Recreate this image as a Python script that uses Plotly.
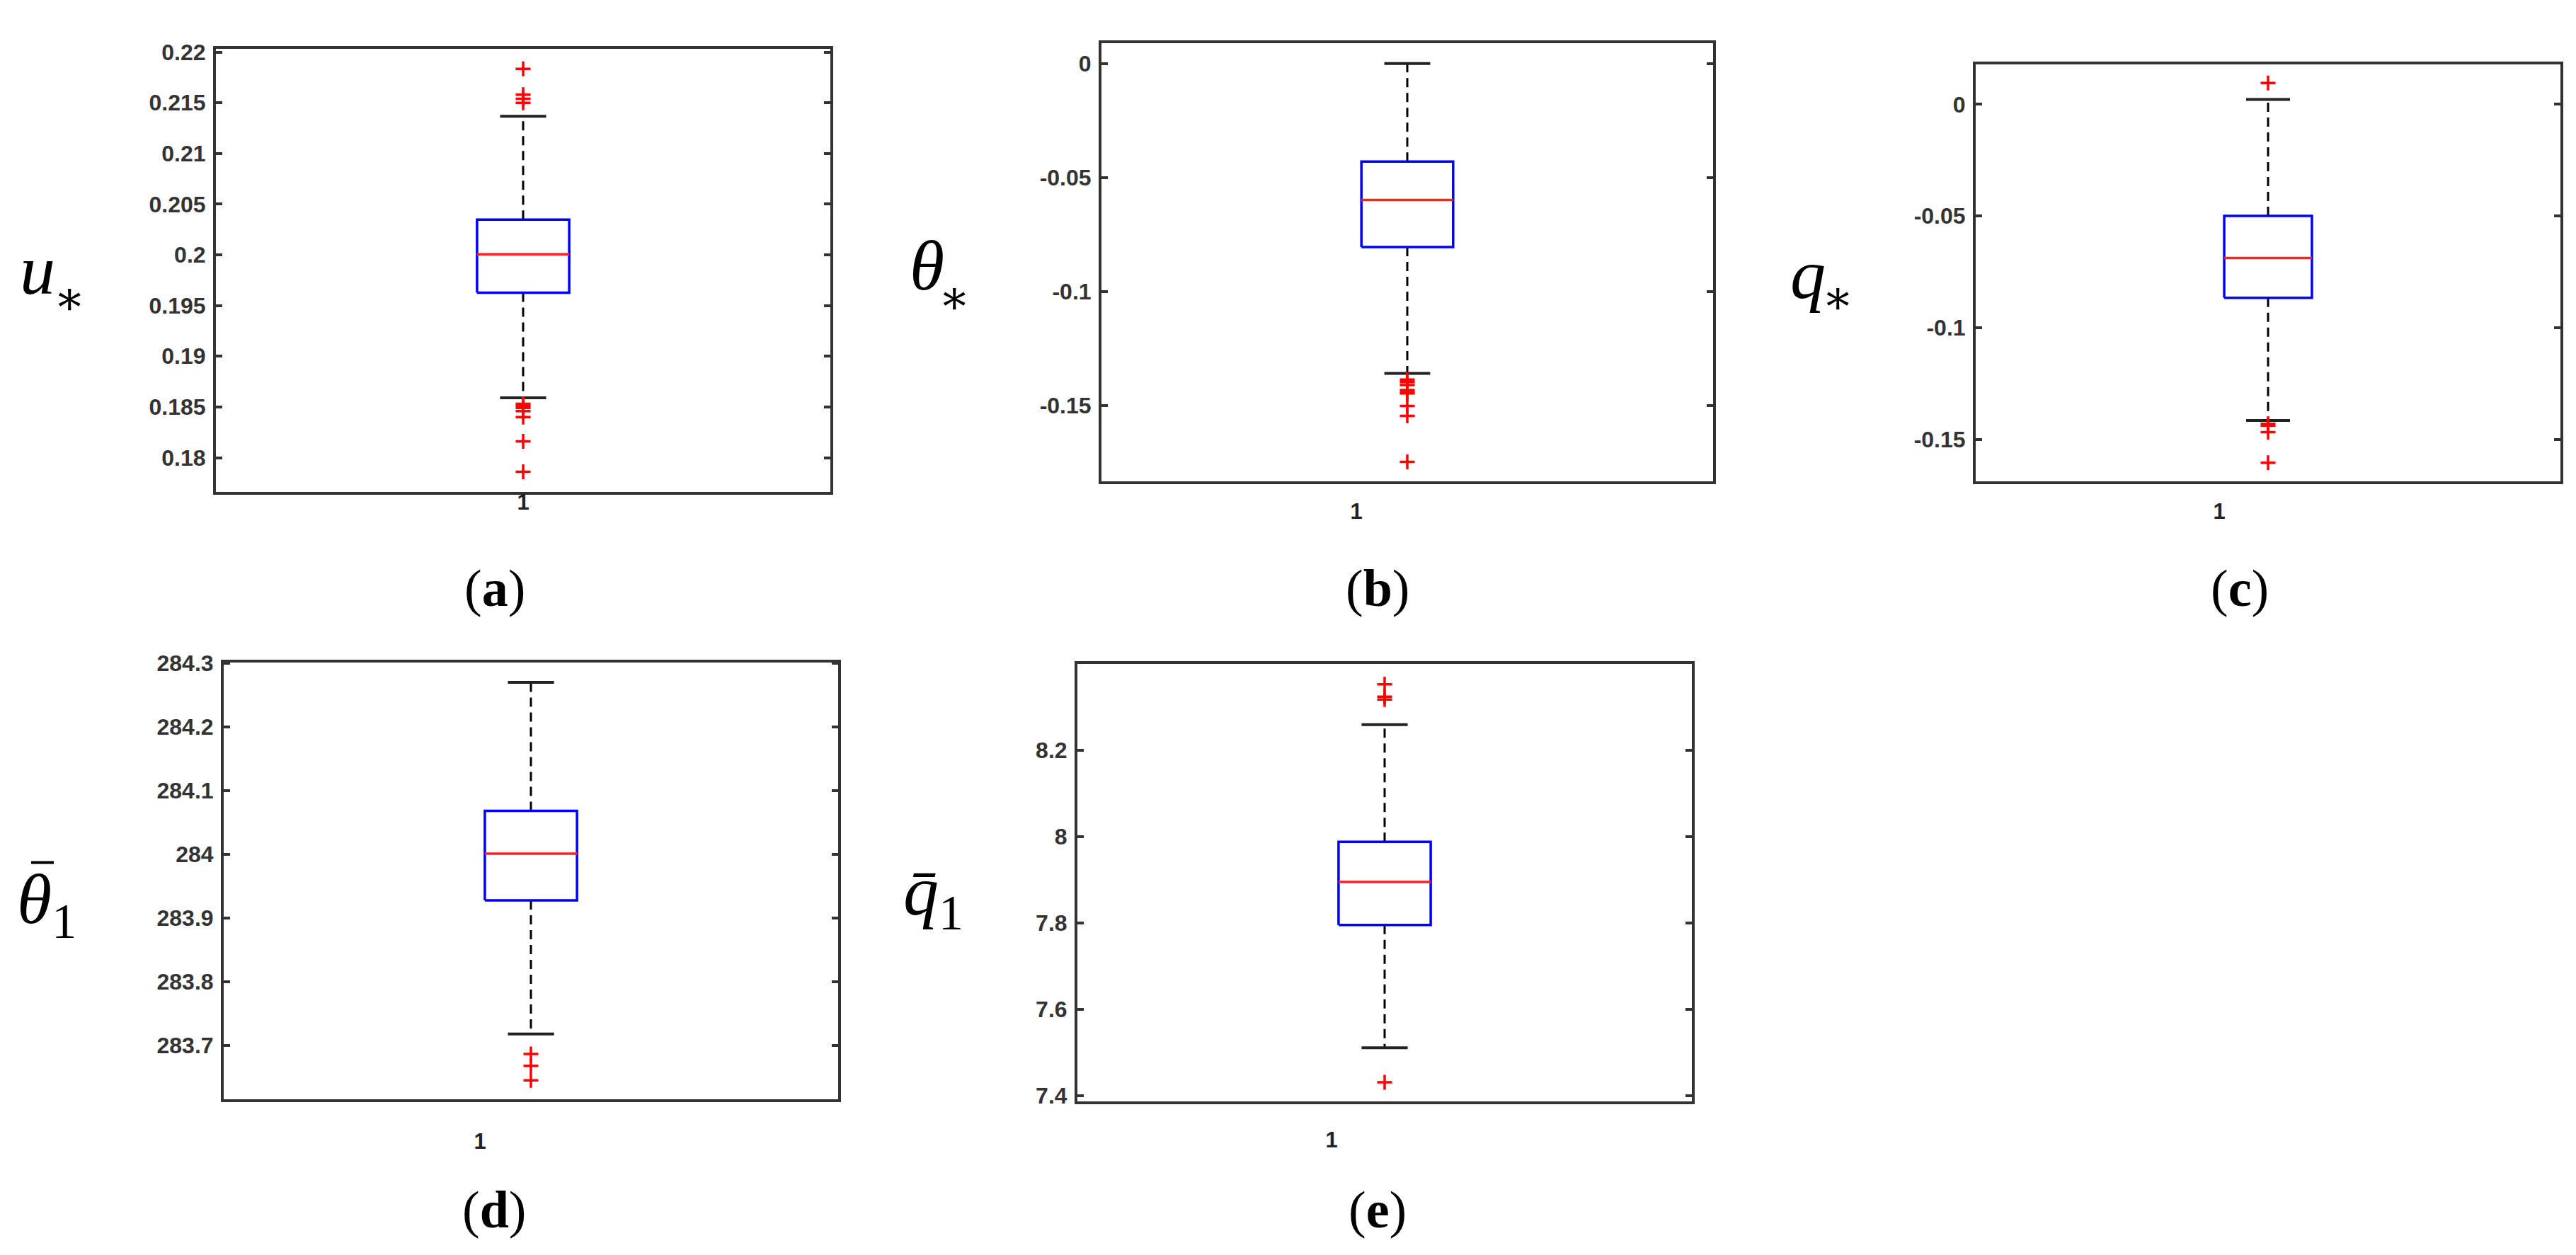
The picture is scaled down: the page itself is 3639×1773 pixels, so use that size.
import plotly.graph_objects as go

W, H = 3639, 1773

# panel captions and y-axis symbols
captions = ["(<b>a</b>)", "(<b>b</b>)", "(<b>c</b>)", "(<b>d</b>)", "(<b>e</b>)"]
symbols = ["<i>u</i>", "<i>θ</i>", "<i>q</i>", "<i>θ</i><sub>1</sub>", "<i>q\u0304</i><sub>1</sub>"]
symbol_star = ["∗", "∗", "∗", "", ""]

# box statistics
q1_vals = [0.19627, -0.0805, -0.0866, 283.9277, 7.796]
median_vals = [0.20005, -0.05985, -0.0688, 284.001, 7.8955]
q3_vals = [0.20348, -0.0430, -0.0499, 284.0684, 7.9886]
lower_whisker = [0.1859, -0.1359, -0.1415, 283.718, 7.5112]
upper_whisker = [0.21368, 0.0, 0.00224, 284.270, 8.2599]

outliers_a = [0.21835, 0.2158, 0.2154, 0.2150, 0.1853, 0.1851, 0.1849, 0.1846, 0.1840, 0.1816, 0.1786]
outliers_b = [-0.1386, -0.1397, -0.1410, -0.1432, -0.1441, -0.1447, -0.1502, -0.1545, -0.1747]
outliers_c = [0.0096, -0.1430, -0.1438, -0.1467, -0.1604]
outliers_d = [283.6865, 283.668, 283.645]
outliers_e = [8.353, 8.3245, 8.318, 7.4314]
outliers = [outliers_a, outliers_b, outliers_c, outliers_d, outliers_e]

# axis ranges and ticks
y_ranges = [[0.17664, 0.2203], [-0.1832, 0.00878], [-0.1687, 0.0179],
            [283.615, 284.3013], [7.3867, 8.4005]]
tick_a = [0.18, 0.185, 0.19, 0.195, 0.2, 0.205, 0.21, 0.215, 0.22]
tick_b = [-0.15, -0.1, -0.05, 0]
tick_c = [-0.15, -0.1, -0.05, 0]
tick_d = [283.7, 283.8, 283.9, 284, 284.1, 284.2, 284.3]
tick_e = [7.4, 7.6, 7.8, 8, 8.2]
tick_vals = [tick_a, tick_b, tick_c, tick_d, tick_e]

# panel boxes in pixels: left, right, top, bottom
boxes_px = [(297, 1165, 45, 680), (1548, 2412, 37, 665), (2783, 3609, 67, 665),
            (308, 1176, 925, 1552), (1514, 2382, 927, 1555)]
label_shift = [0, -72, -69, -72, -75]
label_standoff = [-16, 12, 12, 28, 23]
symbol_pos = [(45, 362), (1301, 356), (2546, 368), (58, 1272), (1310, 1260)]
star_pos = [(90, 403), (1340, 402), (2588, 402), (0, 0), (0, 0)]
caption_pos = [(691, 818), (1938, 818), (3156, 818), (690, 1710), (1938, 1710)]
theta_bar_px = (36, 68, 1212)  # x0, x1, y of the bar over theta in (d)

bw = 0.075   # half box width
cw = 0.0375  # half cap width

fig = go.Figure()
for i in range(5):
    xa = "x" if i == 0 else f"x{i + 1}"
    ya = "y" if i == 0 else f"y{i + 1}"
    q1, med, q3 = q1_vals[i], median_vals[i], q3_vals[i]
    lw, uw = lower_whisker[i], upper_whisker[i]

    # whiskers
    fig.add_trace(go.Scatter(x=[1, 1, None, 1, 1], y=[q3, uw, None, q1, lw],
                             mode="lines", line=dict(color="black", width=3, dash="13px,8px"),
                             xaxis=xa, yaxis=ya, showlegend=False, hoverinfo="skip"))
    # caps
    fig.add_trace(go.Scatter(x=[1 - cw, 1 + cw, None, 1 - cw, 1 + cw], y=[uw, uw, None, lw, lw],
                             mode="lines", line=dict(color="#222222", width=4),
                             xaxis=xa, yaxis=ya, showlegend=False, hoverinfo="skip"))
    # box
    fig.add_trace(go.Scatter(x=[1 - bw, 1 + bw, 1 + bw, 1 - bw, 1 - bw], y=[q1, q1, q3, q3, q1],
                             mode="lines", line=dict(color="#0000ff", width=3.5),
                             xaxis=xa, yaxis=ya, showlegend=False))
    # median
    fig.add_trace(go.Scatter(x=[1 - bw, 1 + bw], y=[med, med], mode="lines",
                             line=dict(color="#ff2020", width=3.5),
                             xaxis=xa, yaxis=ya, showlegend=False))
    # outliers
    fig.add_trace(go.Scatter(x=[1] * len(outliers[i]), y=outliers[i], mode="markers",
                             marker=dict(symbol="cross-thin", size=15, line=dict(color="#ff0000", width=3.5)),
                             xaxis=xa, yaxis=ya, showlegend=False))

    l, r, t, b = boxes_px[i]
    suffix = "" if i == 0 else str(i + 1)
    fig.layout["xaxis" + suffix] = dict(
        domain=[l / W, r / W], anchor=ya, range=[0.5, 1.5],
        tickvals=[1], ticktext=["1"], ticks="", showgrid=False, zeroline=False,
        showline=True, mirror=True, linecolor="#333333", linewidth=4,
        tickfont=dict(family="Liberation Sans, Arial", size=31, color="#222222", weight="bold"),
        ticklabelshift=label_shift[i], ticklabelstandoff=label_standoff[i],
    )
    fig.layout["yaxis" + suffix] = dict(
        domain=[1 - b / H, 1 - t / H], anchor=xa, range=y_ranges[i],
        tickvals=tick_vals[i], ticktext=[f"{v:g}" for v in tick_vals[i]],
        ticks="inside", ticklen=9, tickwidth=4, tickcolor="#333333",
        showgrid=False, zeroline=False,
        showline=True, mirror="ticks", linecolor="#333333", linewidth=4,
        tickfont=dict(family="Liberation Sans, Arial", size=32, color="#333333", weight="bold"),
        ticklabelstandoff=4,
    )

annotations = []
for i in range(5):
    sx, sy = symbol_pos[i]
    annotations.append(dict(x=sx / W, y=1 - sy / H, xref="paper", yref="paper",
                            text=symbols[i], showarrow=False, xanchor="center", yanchor="middle",
                            font=dict(family="Liberation Serif, Times New Roman", size=100, color="black")))
    if symbol_star[i]:
        ax, ay = star_pos[i]
        annotations.append(dict(x=ax / W, y=1 - ay / H, xref="paper", yref="paper",
                                text=symbol_star[i], showarrow=False, xanchor="center", yanchor="middle",
                                font=dict(family="DejaVu Serif", size=66, color="black")))
    cx, cy = caption_pos[i]
    annotations.append(dict(x=cx / W, y=1 - cy / H, xref="paper", yref="paper",
                            text=captions[i], showarrow=False, xanchor="center", yanchor="middle",
                            font=dict(family="Liberation Serif, Times New Roman", size=74, color="black")))

bx0, bx1, by = theta_bar_px
fig.add_shape(type="line", xref="paper", yref="paper",
              x0=bx0 / W, x1=bx1 / W, y0=1 - by / H, y1=1 - by / H,
              line=dict(color="black", width=4))

fig.update_layout(
    width=W, height=H,
    margin=dict(l=0, r=0, t=0, b=0),
    paper_bgcolor="white", plot_bgcolor="white",
    annotations=annotations,
)

fig.write_html("out.html")
